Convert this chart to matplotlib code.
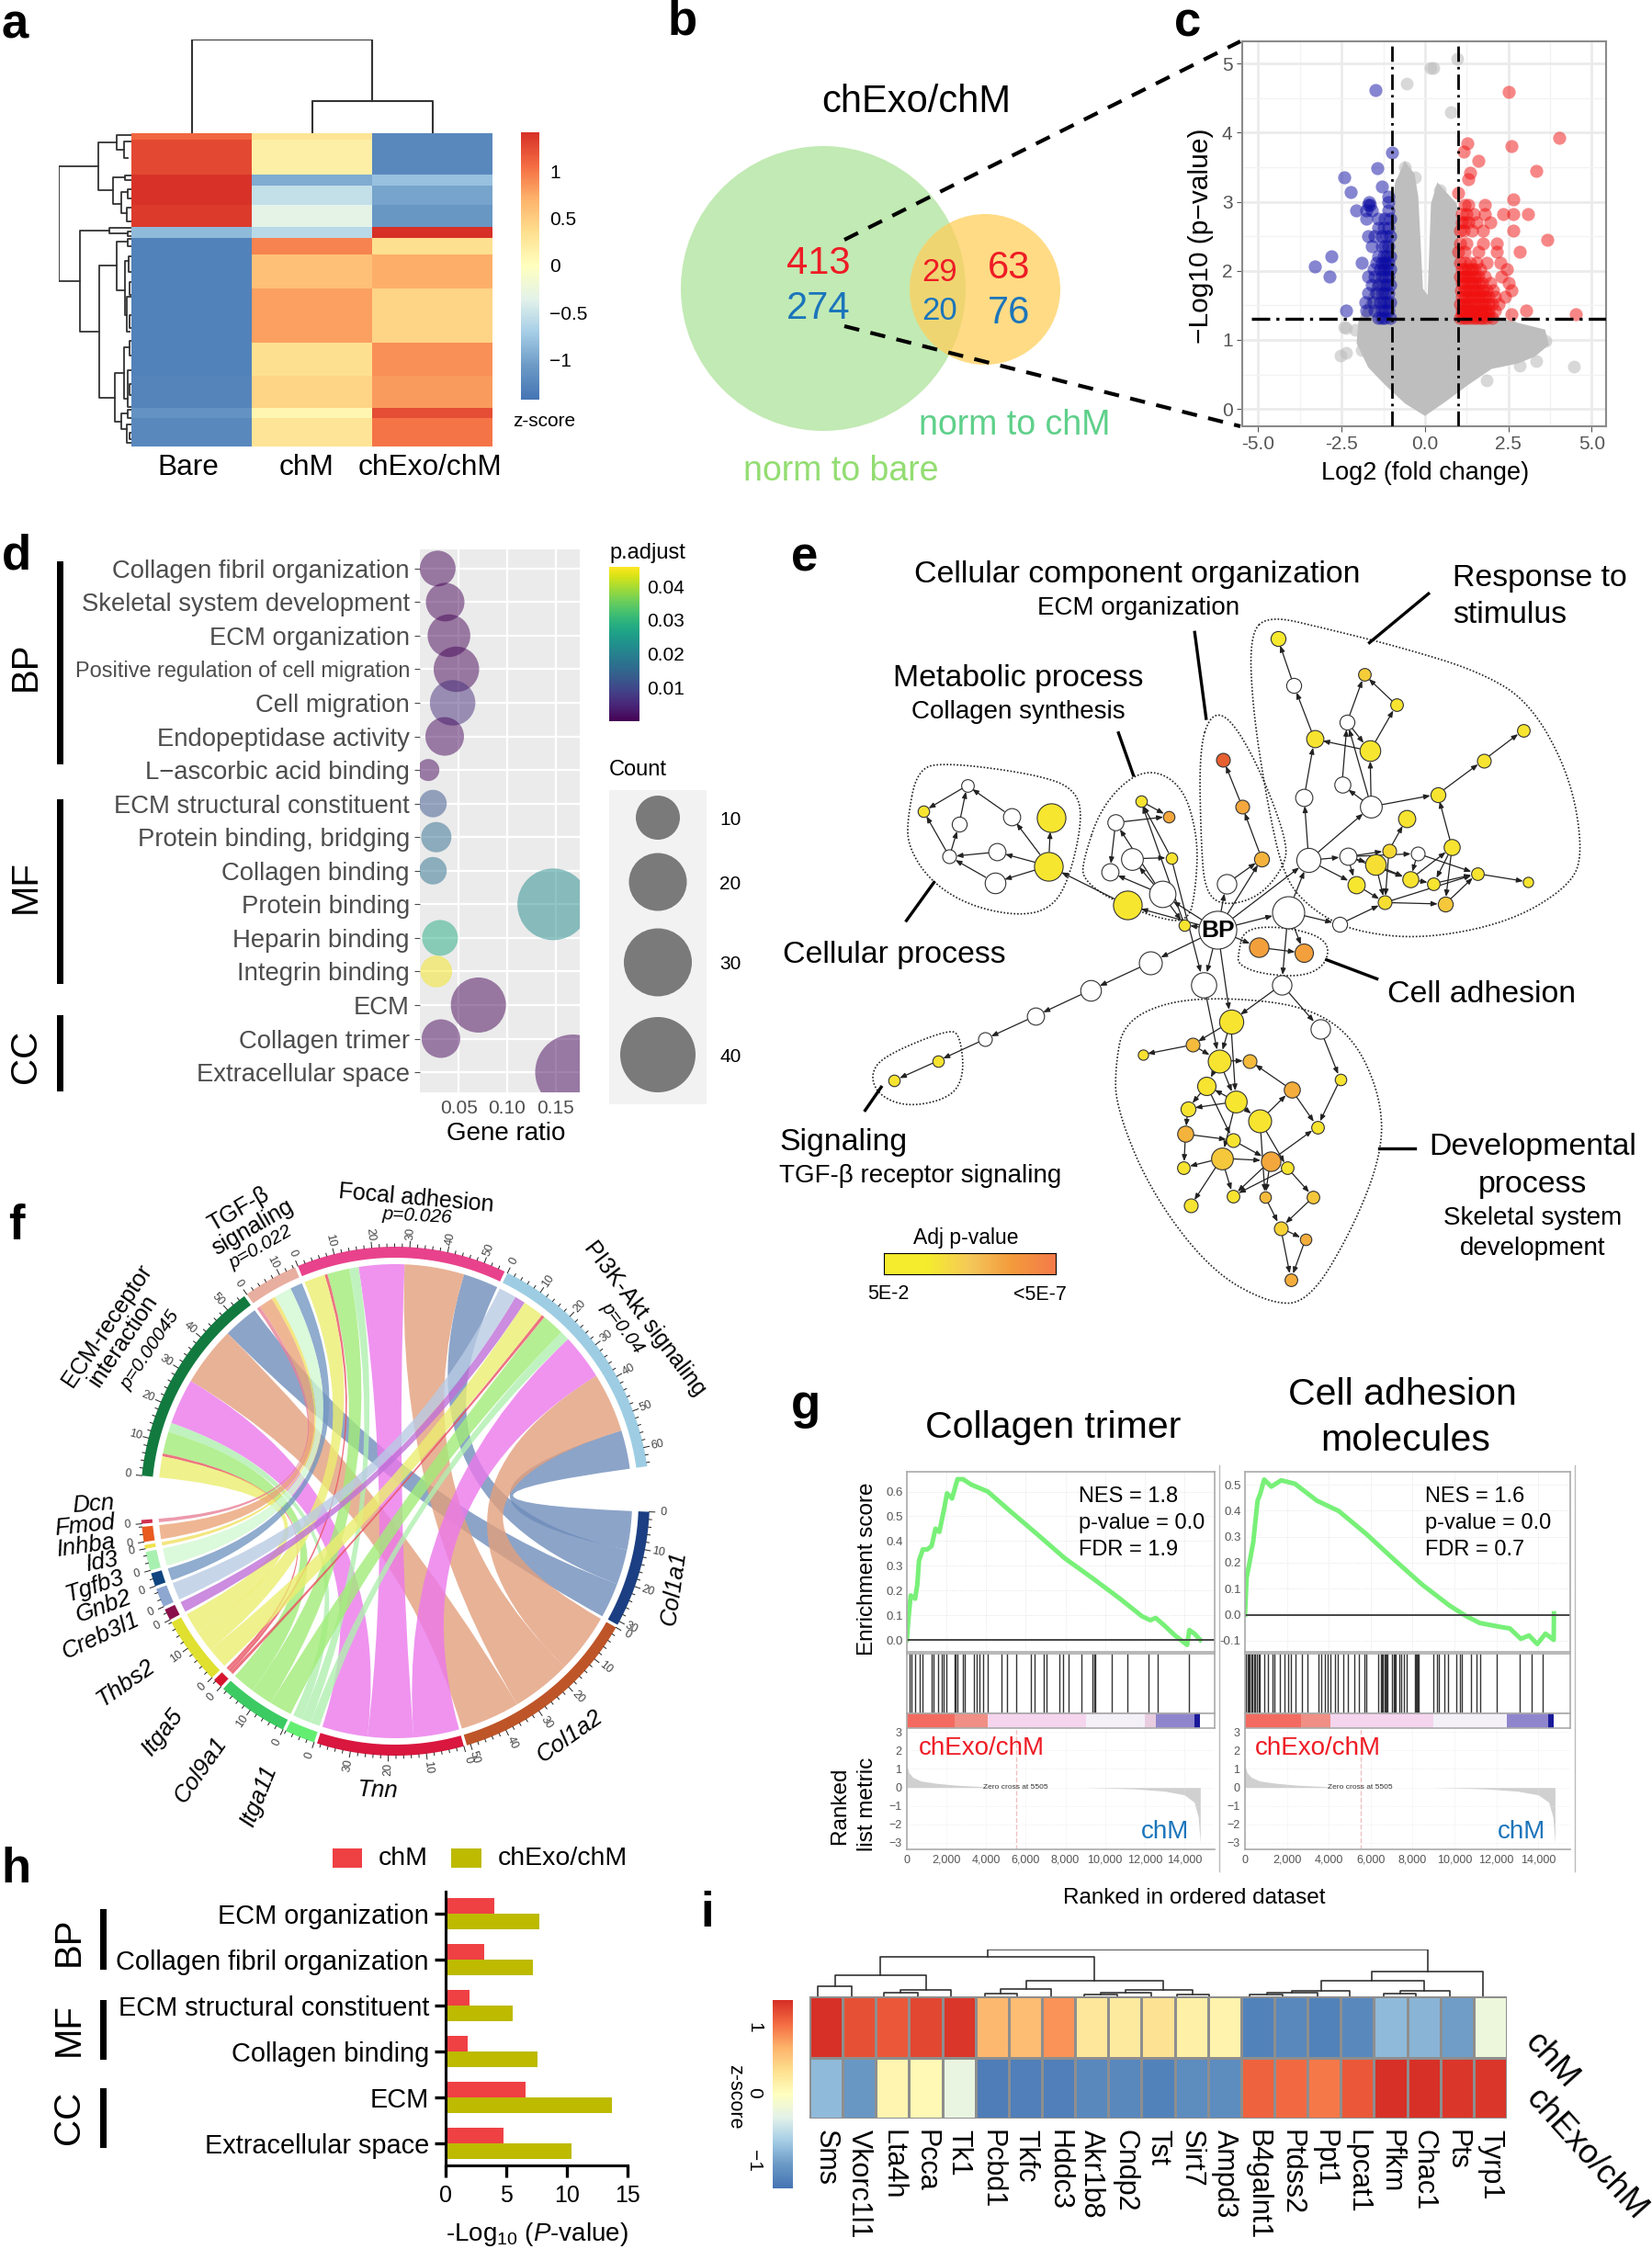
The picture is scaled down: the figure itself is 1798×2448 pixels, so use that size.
import numpy as np
import matplotlib
matplotlib.use("Agg")
import matplotlib.pyplot as plt
from matplotlib.cm import ScalarMappable
from matplotlib.colors import LinearSegmentedColormap, Normalize
from matplotlib.patches import Circle, PathPatch, Rectangle
from matplotlib.path import Path

plt.rcParams["font.family"] = ["Liberation Sans", "DejaVu Sans"]
plt.rcParams["mathtext.fontset"] = "custom"
plt.rcParams["mathtext.rm"] = "Liberation Sans"
plt.rcParams["mathtext.it"] = "Liberation Sans:italic"
plt.rcParams["axes.unicode_minus"] = True

W, H = 1798, 2448

# ======================================================
# DATA
# ======================================================
# a: heatmap blocks (gene counts per block, z-score per sample)
a_block_sizes = [20, 105, 35, 60, 65, 35, 50, 105, 165, 100, 100, 30, 87]
a_bare = [1.1, 1.27, 1.4, 1.4, 1.36, -0.85, -1.3, -1.3, -1.3, -1.3, -1.28, -1.15, -1.25]
a_chm = [0.3, 0.18, -0.95, -0.55, -0.33, -0.6, 0.95, 0.6, 0.8, 0.35, 0.45, 0.1, 0.3]
a_chexo = [-1.25, -1.25, -0.8, -1.0, -1.1, 1.42, 0.35, 0.72, 0.45, 0.88, 0.82, 1.25, 1.02]
a_samples = ["Bare", "chM", "chExo/chM"]
# dendrogram links as (height, y_a, child_height_a, y_b, child_height_b)
a_row_links = [
    (147, 507, 247, 857, 200), (247, 432, 293, 580, 283), (293, 410, 330, 455, 312),
    (312, 430, 330, 480, 320), (283, 540, 315, 620, 305), (315, 533, 330, 548, 330),
    (305, 585, 320, 650, 318), (320, 575, 330, 605, 330), (318, 632, 330, 675, 330),
    (200, 702, 275, 1012, 250), (275, 695, 330, 712, 320), (320, 705, 330, 720, 330),
    (250, 810, 292, 1212, 288), (292, 737, 320, 885, 315), (320, 728, 330, 750, 330),
    (315, 795, 322, 960, 318), (322, 780, 330, 830, 330), (318, 905, 330, 1010, 325),
    (288, 1138, 312, 1285, 305), (312, 1060, 325, 1215, 320), (325, 1040, 330, 1085, 330),
    (320, 1130, 330, 1240, 330), (305, 1260, 320, 1310, 318), (320, 1250, 330, 1275, 330),
    (318, 1295, 330, 1350, 330), (325, 860, 330, 900, 330), (325, 960, 330, 1000, 330),
    (325, 1170, 330, 1205, 330), (325, 1320, 330, 1340, 330),
]
a_col_links = [(784, 1087, 308, 405, 405), (483, 935, 120, 405, 308)]

# c: volcano
grey_outline_x = [0.0, 0.6, 1.3, 2.0, 2.8, 3.3, 3.72, 3.6, 2.34, 1.1, 1.0, 0.96, 0.67, 0.37, 0.18, 0.08, -0.06, -0.2, -0.31, -0.61, -0.9, -1.1, -2.0, -2.05, -1.7, -1.2, -0.6]
grey_outline_y = [-0.1, 0.1, 0.35, 0.58, 0.66, 0.76, 0.93, 1.15, 1.3, 1.6, 2.4, 2.97, 3.12, 3.28, 2.97, 1.65, 1.74, 3.07, 3.4, 3.59, 3.26, 2.4, 1.25, 0.95, 0.6, 0.35, 0.08]
grey_x = [0.96, 0.24, 0.16, -0.55, 0.77, -2.38, -2.42, -2.38, -2.54, 3.09, 3.62, 4.47, 2.83, 3.33, 1.85, -0.61, -0.31, -0.7, 0.43, 2.6, 2.9, 3.2, -2.1, -1.9]
grey_y = [5.07, 4.94, 4.94, 4.71, 4.30, 1.17, 1.19, 0.82, 0.77, 1.03, 0.98, 0.61, 0.63, 0.70, 0.41, 3.5, 3.35, 3.28, 3.16, 1.2, 1.1, 0.95, 1.15, 0.85]
blue_rows = {
    1.32: [-1.05, -1.2, -1.3, -1.4], 1.42: [-1.1, -1.2, -1.3, -1.5, -1.75, -2.38], 1.55: [-1.05, -1.15, -1.25, -1.35, -1.55, -1.8],
    1.68: [-1.1, -1.2, -1.3, -1.45, -1.7], 1.8: [-1.05, -1.15, -1.25, -1.4, -1.6], 1.92: [-1.1, -1.2, -1.3, -1.5, -1.7, -2.85],
    2.02: [-1.05, -1.15, -1.25, -1.35, -1.55], 2.06: [-3.3], 2.12: [-1.1, -1.2, -1.3, -1.45, -1.9], 2.21: [-1.05, -1.15, -1.25, -1.4, -2.8],
    2.35: [-1.1, -1.2, -1.3, -1.6], 2.5: [-1.05, -1.15, -1.3, -1.5, -1.7], 2.62: [-1.1, -1.25, -1.4],
    2.75: [-1.05, -1.2, -1.4, -1.75], 2.88: [-1.1, -1.6, -1.75, -2.05], 2.95: [-1.65, -1.7], 3.0: [-1.1, -1.68],
    3.07: [-1.1], 3.14: [-2.22], 3.22: [-1.3], 3.35: [-2.42], 3.48: [-1.44], 3.71: [-1.0], 4.62: [-1.48],
}
red_rows = {
    1.32: [1.05, 1.15, 1.25, 1.35, 1.45, 1.55, 1.65, 1.75, 1.85, 2.02], 1.37: [2.58, 4.51, 1.1, 1.3, 1.5, 1.7, 1.9],
    1.42: [1.1, 1.2, 1.3, 1.4, 1.5, 1.6, 1.7, 1.8, 1.9, 2.1, 3.03],
    1.52: [1.05, 1.15, 1.2, 1.3, 1.4, 1.5, 1.6, 1.7, 1.8, 1.9, 2.0, 2.2], 1.62: [1.1, 1.2, 1.3, 1.4, 1.5, 1.6, 1.7, 1.8, 1.9, 2.1, 2.4],
    1.72: [1.08, 1.18, 1.25, 1.35, 1.45, 1.55, 1.65, 1.75, 1.85, 2.05, 2.6], 1.82: [1.1, 1.2, 1.3, 1.4, 1.5, 1.6, 1.7, 1.95, 2.5],
    1.92: [1.05, 1.15, 1.2, 1.3, 1.4, 1.5, 1.6, 1.8, 2.3], 2.02: [1.1, 1.2, 1.3, 1.4, 1.5, 1.65, 2.45], 2.12: [1.05, 1.2, 1.35, 1.55, 1.85, 2.25],
    2.27: [1.0, 1.2, 1.6, 2.15, 2.83], 2.4: [1.05, 1.25, 1.75, 2.15], 2.45: [3.68], 2.58: [1.05, 1.15, 1.4, 1.75, 2.64],
    2.7: [1.1, 1.2, 1.3, 1.55, 1.95], 2.82: [1.1, 1.25, 1.45, 1.8, 2.34, 2.65, 3.09], 2.95: [1.2, 1.3, 1.79], 3.04: [2.66],
    3.12: [1.0], 3.32: [1.3], 3.42: [1.36], 3.45: [3.33], 3.59: [1.59], 3.73: [1.16], 3.81: [2.58],
    3.84: [1.26], 3.92: [4.02], 4.59: [2.5],
}

# d: GO bubbles
d_terms = ["Collagen fibril organization", "Skeletal system development", "ECM organization",
           "Positive regulation of cell migration", "Cell migration", "Endopeptidase activity",
           "L\u2212ascorbic acid binding", "ECM structural constituent", "Protein binding, bridging",
           "Collagen binding", "Protein binding", "Heparin binding", "Integrin binding", "ECM",
           "Collagen trimer", "Extracellular space"]
d_ratio = [0.0283, 0.036, 0.0399, 0.0476, 0.0437, 0.0355, 0.0186, 0.0234, 0.0268, 0.0234, 0.1476, 0.0307, 0.0268, 0.0703, 0.0316, 0.1679]
d_count = [7, 8, 9.5, 11, 11, 8, 2, 4, 5, 4, 35, 7, 5.5, 18, 8, 42]
d_padj = [0.0005, 0.0005, 0.0005, 0.0005, 0.006, 0.001, 0.001, 0.012, 0.016, 0.017, 0.022, 0.028, 0.045, 0.0005, 0.001, 0.001]
d_legend_counts = [10, 20, 30, 40]
d_count_levels = [2, 10, 20, 30, 40]
d_diam_levels = [24, 48, 63, 74, 82]

# e: network, x/y in layout units, (x, y, size, colour level; None = not significant)
e_top_nodes = {
    "BP": (810, 770, 66, None), "m1": (933, 735, 56, None), "m2": (1023, 759, 26, None),
    "ca1": (882, 804, 34, 0.6), "ca2": (961, 815, 32, 0.6),
    "c1": (820, 440, 24, 0.95), "c2": (853, 531, 24, 0.55), "c3": (887, 632, 26, 0.45), "c4": (825, 681, 34, None),
}
e_response_nodes = {
    "r1": (915, 205, 26, 0.0), "r2": (943, 296, 26, None), "r3": (1066, 275, 22, 0.25), "r4": (1122, 334, 22, 0.05),
    "r5": (1036, 367, 26, None), "r6": (979, 400, 30, 0.05), "r7": (1076, 423, 36, 0.03), "r8": (1343, 383, 22, 0.05),
    "r9": (1274, 441, 24, 0.05), "r10": (1027, 489, 28, None), "r11": (961, 513, 30, None), "r12": (1078, 531, 38, None),
    "r13": (1194, 507, 26, 0.05), "r14": (1140, 554, 30, 0.05), "r15": (1219, 610, 28, 0.05), "r16": (1109, 616, 24, 0.15),
    "r17": (1159, 622, 24, None), "r18": (969, 635, 42, None), "r19": (1037, 628, 30, None), "r20": (1086, 644, 36, 0.1),
    "r21": (1051, 682, 30, 0.03), "r22": (1146, 672, 28, 0.05), "r23": (1187, 680, 22, 0.05), "r24": (1263, 661, 22, 0.05),
    "r25": (1352, 677, 18, 0.05), "r26": (1102, 717, 24, 0.1), "r27": (1207, 720, 26, 0.3),
}
e_metabolic_nodes = {
    "k1": (676, 520, 20, 0.05), "k2": (725, 550, 20, 0.55), "k3": (632, 562, 28, None), "k4": (729, 630, 20, 0.05),
    "k5": (661, 632, 38, None), "k6": (622, 658, 30, None), "k7": (713, 701, 46, None), "k8": (652, 722, 50, 0.03),
    "k9": (752, 760, 20, 0.05),
}
e_cellular_nodes = {
    "p1": (373, 490, 22, None), "p2": (297, 540, 20, 0.05), "p3": (450, 550, 30, None), "p4": (519, 552, 50, 0.03),
    "p5": (359, 565, 26, None), "p6": (425, 619, 30, None), "p7": (342, 628, 24, None), "p8": (515, 646, 50, 0.03),
    "p9": (421, 678, 36, None),
}
e_signal_nodes = {
    "s1": (693, 833, 40, None), "s2": (588, 887, 36, None), "s3": (492, 937, 30, None), "s4": (404, 982, 24, None),
    "s5": (322, 1024, 20, 0.05), "s6": (246, 1062, 20, 0.05),
}
e_dev_nodes = {
    "d1": (786, 876, 44, None), "d2": (922, 876, 34, None), "d3": (989, 962, 34, None), "d4": (833, 948, 42, 0.05),
    "d5": (766, 993, 24, 0.4), "d6": (679, 1012, 18, 0.08), "d7": (813, 1024, 40, 0.05), "d8": (866, 1024, 24, 0.4),
    "d9": (1024, 1060, 20, 0.05), "d10": (939, 1080, 28, 0.5), "d11": (791, 1072, 32, 0.05), "d12": (842, 1103, 38, 0.03),
    "d13": (758, 1117, 26, 0.05), "d14": (884, 1140, 40, 0.05), "d15": (984, 1152, 22, 0.05), "d16": (754, 1166, 28, 0.45),
    "d17": (837, 1178, 24, 0.05), "d18": (817, 1213, 38, 0.3), "d19": (902, 1218, 34, 0.55), "d20": (932, 1232, 22, 0.05),
    "d21": (751, 1231, 22, 0.05), "d22": (837, 1286, 22, 0.05), "d23": (893, 1288, 20, 0.4), "d24": (977, 1288, 22, 0.3),
    "d25": (763, 1305, 24, 0.05), "d26": (920, 1348, 24, 0.2), "d27": (963, 1371, 20, 0.5), "d28": (938, 1448, 22, 0.5),
}
e_edges = """BP-k9 BP-k8 BP-c4 BP-c3 BP-m1 BP-ca1 BP-s1 BP-d1 BP-d4 BP-r18 BP-k7 k8-p8 k7-k6 k7-k5 k7-k3 k4-k1 k9-k1
k3-k2 k1-k2 k3-k6 k5-k4 k4-d1 k7-k9 p8-p4 p8-p3 p8-p6 p8-p9 p6-p7 p9-p7 p7-p2 p7-p5 p5-p1 p3-p1 p1-p2
c4-c3 c3-c2 c2-c1 m1-ca2 m1-r18 m1-m2 m2-r26 m1-d2 ca1-ca2 r18-r12 r12-r13 r12-r7 r7-r4 r2-r1 r6-r2 r7-r6 r5-r3 r4-r3
r5-r7 r12-r5 r10-r5 r11-r6 r18-r11 r12-r10 r18-r19 r18-r21 r19-r20 r19-r16 r19-r17 r13-r9 r9-r8 r15-r13 r16-r14
r17-r24 r20-r22 r22-r23 r22-r15 r15-r23 r15-r27 r24-r25 r23-r24 r26-r27 r26-r24 r20-r26 r21-r26 r16-r26 r17-r22
r27-r24 r19-r22 r19-r21 s1-s2 s2-s3 s3-s4 s4-s5 s5-s6 d2-d4 d2-d3 d3-d9 d9-d15 d1-d7 d4-d7 d4-d12 d4-d5 d5-d6 d5-d7
d7-d8 d7-d11 d7-d12 d10-d8 d10-d15 d12-d11 d12-d14 d14-d10 d11-d13 d13-d16 d12-d13 d16-d17 d16-d21 d11-d17
d12-d18 d18-d19 d18-d21 d18-d22 d18-d25 d17-d19 d19-d15 d19-d22 d14-d20 d19-d20 d20-d24 d20-d22 d19-d23 d23-d26
d24-d26 d26-d27 d26-d28 d27-d28 d14-d23""".split()
e_blobs = [
    [(866, 195), (900, 160), (1000, 186), (1130, 222), (1265, 268), (1355, 328), (1425, 470), (1448, 620), (1425, 685),
     (1320, 755), (1170, 788), (1050, 774), (978, 734), (926, 672), (896, 520), (871, 340)],
    [(268, 560), (286, 456), (340, 446), (480, 466), (558, 492), (576, 550), (548, 684), (512, 734), (450, 742),
     (368, 719), (306, 672), (271, 610)],
    [(574, 640), (608, 526), (680, 454), (748, 486), (776, 590), (772, 690), (759, 756), (700, 746), (618, 708), (576, 672)],
    [(778, 420), (798, 350), (832, 358), (884, 458), (932, 600), (926, 648), (882, 707), (820, 724), (788, 696), (781, 600)],
    [(846, 817), (856, 766), (932, 764), (1002, 788), (1002, 834), (962, 861), (888, 856), (846, 838)],
    [(632, 1030), (646, 951), (720, 909), (830, 901), (964, 918), (1046, 976), (1094, 1090), (1098, 1200), (1046, 1350),
     (968, 1494), (898, 1494), (796, 1429), (692, 1276), (632, 1112)],
    [(204, 1050), (228, 1014), (342, 962), (361, 976), (368, 1052), (344, 1096), (270, 1114), (218, 1091)],
]
e_callouts = [((1178, 118), (1075, 213)), ((770, 193), (790, 360)), ((637, 388), (663, 470)), ((315, 678), (267, 752)),
              ((1000, 828), (1088, 865)), ((223, 1075), (195, 1120)), ((1092, 1193), (1155, 1193))]

# f: chord diagram, links gene -> pathway
f_genes = ["Col1a1", "Col1a2", "Tnn", "Itga11", "Col9a1", "Itga5", "Thbs2", "Creb3l1", "Gnb2", "Tgfb3", "Id3", "Inhba", "Fmod", "Dcn"]
f_pathways = ["ECM", "TGF", "Focal", "PI3K"]
f_ecm = [10, 17, 13, 2.6, 6.3, 0.8, 6, 0, 0, 0, 0, 0, 0, 0]
f_tgf = [0, 0, 0, 0, 0, 0, 0, 0, 0, 3.5, 5, 1, 4, 1]
f_focal = [10, 17, 13, 2.7, 6.3, 0.8, 6, 0, 0, 0, 0, 0, 0, 0]
f_pi3k = [11, 17, 13, 2.7, 6.4, 0.9, 6, 3, 5, 0, 0, 0, 0, 0]
f_gene_ring = ["#1B3F82", "#BE5528", "#D9173F", "#63EE72", "#3CCB62", "#D5152E", "#DFE02F", "#8B0F4A", "#8DA7D0", "#10457F", "#A8F0B0", "#EFE24A", "#E85A20", "#D03050"]
f_gene_ribbon = ["#6F8DBB", "#E39F7C", "#EC78EC", "#B0EFB0", "#A2EC78", "#E85060", "#ECEE70", "#C070D8", "#B9CBE4", "#7498C2", "#D2F8D2", "#F0E060", "#ECA478", "#E88098"]
f_path_ring = ["#127A3F", "#E8AEA0", "#E9428C", "#9ECDE3"]

# g: GSEA
g1_rank = [0, 83, 194, 417, 528, 611, 806, 1028, 1250, 1444, 1639, 1861, 2028, 2278, 2556, 2833, 3250, 4083, 5194, 6583, 7972, 9361, 10750, 11861, 12278, 12556, 12972, 13528, 14139, 14250, 14500, 14806]
g1_es = [0, .089, .18, .167, .224, .32, .366, .366, .38, .45, .437, .522, .593, .572, .65, .65, .628, .6, .522, .427, .33, .25, .167, .096, .08, .089, .06, .018, -.02, .04, .026, 0]
g2_rank = [0, 79, 209, 393, 602, 733, 916, 1257, 1728, 2383, 3430, 4477, 5786, 7147, 8456, 9765, 10551, 11205, 12122, 12645, 13169, 13562, 13954, 14347, 14739, 14750]
g2_es = [0, .143, .197, .278, .439, .466, .52, .493, .517, .504, .439, .399, .311, .21, .116, .035, -.005, -.032, -.046, -.053, -.093, -.08, -.113, -.073, -.097, .005]
g1_hits = [139, 250, 417, 639, 778, 1250, 1361, 1583, 1750, 1861, 1972, 2417, 2472, 2556, 2833, 2917, 3389, 3528, 3667, 3861, 4083, 4778, 5056, 5528, 6250, 6444, 6917, 7028, 7694, 7889, 8167, 8806, 9361, 9444, 9500, 10333, 11111, 12194, 12639, 14250]
g2_hits = [60, 120, 180, 240, 300, 360, 420, 480, 560, 640, 700, 900, 1100, 1300, 1400, 1650, 1900, 2050, 2200, 2400, 2700, 3000, 3500, 3650, 3800, 3950, 4100, 4300, 4450, 4700, 4900, 5200, 5450, 5700, 5800, 6350, 6500, 6550, 6600, 6650, 6700, 6750, 6800, 7000, 7100, 7150, 7200, 7350, 7450, 7600, 7700, 8100, 8150, 8200, 8250, 8300, 9000, 9150, 9250, 9500, 9700, 10100, 10250, 10350, 10800, 11050, 11250, 12000, 13100, 13700, 14200]
g1_band_edges = [0, 2417, 4083, 9028, 12000, 12556, 14500, 14800]
g2_band_edges = [0, 2696, 4058, 8980, 12515, 14478, 14740, 14800]
g1_band_cols = ["#F36B60", "#F08F85", "#F5D5EE", "#F4F0F8", "#E8CCE0", "#8F85CC", "#1A1A9A"]
g2_band_cols = ["#F36B60", "#F08F85", "#F5D5EE", "#F4F0F8", "#8F85CC", "#1A1A9A", "#FFFFFF"]
g_metric_rank = [0, 100, 300, 700, 1500, 2500, 4083, 4084, 9000, 10000, 11500, 13000, 14000, 14500, 14700, 14800]
g_metric_val = [1.2, 0.8, 0.55, 0.35, 0.22, 0.12, 0.03, 0, 0, -0.03, -0.08, -0.2, -0.4, -0.8, -1.6, -3.0]

# h: bars
h_terms = ["ECM organization", "Collagen fibril organization", "ECM structural constituent", "Collagen binding", "ECM", "Extracellular space"]
h_chm = [4.0, 3.15, 1.95, 1.8, 6.6, 4.8]
h_chexo = [7.7, 7.2, 5.55, 7.6, 13.7, 10.4]

# i: heatmap
i_genes = ["Sms", "Vkorc1l1", "Lta4h", "Pcca", "Tk1", "Pcbd1", "Tkfc", "Hddc3", "Akr1b8", "Cndp2", "Tst", "Sirt7", "Ampd3",
           "B4galnt1", "Ptdss2", "Ppt1", "Lpcat1", "Pfkm", "Chac1", "Pts", "Tyrp1"]
i_chm = [1.38, 1.2, 1.15, 1.25, 1.35, 0.65, 0.6, 0.85, 0.25, 0.22, 0.3, 0.15, 0.12, -1.3, -1.25, -1.3, -1.25, -0.85, -0.9, -1.05, -0.25]
i_chexo = [-0.85, -1.1, 0.1, 0.05, -0.3, -1.35, -1.32, -1.32, -1.25, -1.25, -1.3, -1.2, -1.2, 1.1, 1.05, 0.98, 1.15, 1.4, 1.4, 1.35, 1.35]
# (x_left, x_right, height, child_height_left, child_height_right)
i_links = [
    (197, 252, 305, 338, 338), (305, 362, 327, 338, 338), (333, 416, 318, 327, 338), (225, 375, 270, 305, 318),
    (472, 525, 329, 338, 338), (498, 580, 315, 329, 338), (635, 690, 332, 338, 338), (662, 745, 326, 332, 338),
    (787, 840, 332, 338, 338), (703, 813, 318, 326, 332), (540, 765, 288, 315, 318), (300, 652, 210, 270, 288),
    (907, 962, 332, 338, 338), (935, 1018, 326, 332, 338), (976, 1072, 319, 326, 338), (1127, 1180, 330, 338, 338),
    (1155, 1236, 319, 330, 338), (1024, 1194, 288, 319, 319), (1108, 1290, 258, 288, 338), (476, 1200, 185, 210, 258),
]

# ======================================================
# HELPERS
# ======================================================
fig = plt.figure(figsize=(W / 100, H / 100), dpi=100, facecolor="white")


def box(x0, y0, x1, y1, **kw):
    return fig.add_axes([x0 / W, 1 - y1 / H, (x1 - x0) / W, (y1 - y0) / H], **kw)


page = box(0, 0, W, H, zorder=10)
page.set_xlim(0, W)
page.set_ylim(H, 0)
page.axis("off")
page.patch.set_alpha(0)


def put(x, y, s, size=20, ha="center", va="center", color="black", **kw):
    # matplotlib centres on the text box, the glyphs sit a little higher
    if not kw.get("rotation"):
        y += 2
    page.text(x, y, s, fontsize=size, ha=ha, va=va, color=color, **kw)


def side_bar(x, y0, y1, width=7):
    page.add_patch(Rectangle((x, y0), width, y1 - y0, color="black", lw=0))


z_cmap = LinearSegmentedColormap.from_list(
    "z", ["#4575B4", "#6C9AC6", "#A5CDE6", "#E3F2EA", "#FFFFBF", "#FEE090", "#FDB36B", "#F46D43", "#D73027"])

for letter, lx, ly in [("a", 16, 26), ("b", 743, 21), ("c", 1293, 23), ("d", 18, 603), ("e", 876, 606), ("f", 18, 1333),
                       ("g", 877, 1528), ("h", 17, 2033), ("i", 770, 2081)]:
    put(lx, ly, letter, size=38, fontweight="bold")

# ======================================================
# PANEL A: HEATMAP
# ======================================================
ax = box(143, 145, 536, 486)
edges = np.concatenate(([0], np.cumsum(a_block_sizes)))
ax.pcolormesh([0, 1, 2, 3], edges, np.array([a_bare, a_chm, a_chexo]).T, cmap=z_cmap, vmin=-1.43, vmax=1.42)
ax.set_ylim(edges[-1], 0)
ax.axis("off")

ax = box(63.7, 145, 143, 486)
for h, y_a, ca, y_b, cb in a_row_links:
    ax.plot([ca, h, h, cb], [y_a, y_a, y_b, y_b], color="#333333", lw=1.3)
ax.set_xlim(147, 330)
ax.set_ylim(1362, 405)
ax.axis("off")

ax = box(143, 43, 536, 145)
for x_l, x_r, h, cl, cr in a_col_links:
    ax.plot([x_l, x_l, x_r, x_r], [cl, h, h, cr], color="#333333", lw=1.5)
ax.set_xlim(330, 1237)
ax.set_ylim(405, 120)
ax.axis("off")

for name, x in zip(a_samples, [205, 334, 468]):
    put(x, 507, name, size=22.8)

cax = box(567, 144, 587, 435)
cb = fig.colorbar(ScalarMappable(Normalize(-1.43, 1.42), z_cmap), cax=cax)
cb.set_ticks([1, 0.5, 0, -0.5, -1], labels=["1", "0.5", "0", "\u22120.5", "\u22121"])
cb.ax.tick_params(length=0, labelsize=15, pad=8)
cb.outline.set_visible(False)
put(592, 456, "z-score", size=15)

# ======================================================
# PANEL B: VENN
# ======================================================
page.add_patch(Circle((896, 314), 155, facecolor="#BFE9B0", edgecolor="none", alpha=0.95))
page.add_patch(Circle((1072, 315), 82, facecolor="#FFCF5C", edgecolor="none", alpha=0.75))
put(997, 109, "chExo/chM", size=30)
for x, y, s, col, size in [(891, 285, "413", "#EE1C25", 30), (891, 334, "274", "#1B75BB", 30), (1023, 295, "29", "#EE1C25", 25),
                           (1023, 336, "20", "#1B75BB", 25), (1098, 290, "63", "#EE1C25", 30), (1098, 339, "76", "#1B75BB", 30)]:
    put(x, y, s, size=size, color=col)
put(1104, 461, "norm to chM", size=27, color="#5FD08A")
put(915, 511, "norm to bare", size=27, color="#93DD72")
page.plot([919, 1350], [261, 45], color="black", lw=3, ls=(0, (4, 3)))
page.plot([919, 1350], [355, 464], color="black", lw=3, ls=(0, (4, 3)))

# ======================================================
# PANEL C: VOLCANO
# ======================================================
ax = box(1352, 45, 1748, 464)
ax.set_xlim(-5.48, 5.43)
ax.set_ylim(-0.25, 5.32)
ax.set_axisbelow(True)
ax.grid(True, which="major", color="#EBEBEB", lw=2)
ax.set_xticks([-3.75, -1.25, 1.25, 3.75], minor=True)
ax.set_yticks([0.5, 1.5, 2.5, 3.5, 4.5], minor=True)
ax.grid(True, which="minor", color="#F3F3F3", lw=1)
ax.fill(grey_outline_x, grey_outline_y, color="#BEBEBE", lw=0, zorder=2)
ax.scatter(grey_x, grey_y, s=100, color="#BEBEBE", alpha=0.6, lw=0, zorder=2)
bx = [x for y, xs in blue_rows.items() for x in xs]
by = [y for y, xs in blue_rows.items() for x in xs]
rx = [x for y, xs in red_rows.items() for x in xs]
ry = [y for y, xs in red_rows.items() for x in xs]
ax.scatter(bx, by, s=105, color="#0C0CA4", alpha=0.5, lw=0, zorder=3)
ax.scatter(rx, ry, s=105, color="#F01010", alpha=0.5, lw=0, zorder=3)
ax.axvline(-1, color="black", lw=2, ls=(0, (6, 2, 1, 2)), zorder=4)
ax.axvline(1, color="black", lw=2, ls=(0, (6, 2, 1, 2)), zorder=4)
ax.plot([-5.2, 5.43], [1.3, 1.3], color="black", lw=2.4, ls=(0, (6, 2, 1, 2)), zorder=4)
ax.set_xticks([-5, -2.5, 0, 2.5, 5], labels=["-5.0", "-2.5", "0.0", "2.5", "5.0"])
ax.set_yticks([0, 1, 2, 3, 4, 5])
ax.tick_params(which="major", labelsize=15, labelcolor="#555555", color="#555555", length=4)
ax.tick_params(which="minor", length=0)
for s in ax.spines.values():
    s.set_color("#8A8A8A")
    s.set_linewidth(1.5)
put(1551, 513, "Log2 (fold change)", size=19.5)
put(1307, 257, "\u2212Log10 (p\u2212value)", size=21.5, rotation=90)

# ======================================================
# PANEL D: BUBBLES
# ======================================================
def count_size(c):
    return (np.interp(c, d_count_levels, d_diam_levels) * 0.72) ** 2


ax = box(457, 598, 631, 1189)
ax.set_facecolor("#EBEBEB")
ax.set_axisbelow(True)
ax.grid(True, color="white", lw=1.6)
ypos = np.arange(len(d_terms))
ax.scatter(d_ratio, ypos, s=count_size(np.array(d_count)), c=d_padj, cmap="viridis", vmin=0, vmax=0.0458, alpha=0.5, lw=0, zorder=3)
ax.set_xlim(0.0099, 0.175)
ax.set_ylim(15.6, -0.57)
ax.set_yticks(ypos, labels=d_terms)
ax.set_xticks([0.05, 0.10, 0.15], labels=["0.05", "0.10", "0.15"])
ax.tick_params(axis="y", labelsize=19.8, labelcolor="#4D4D4D", color="#4D4D4D", length=4, pad=4)
ax.tick_params(axis="x", labelsize=15, labelcolor="#4D4D4D", length=0, pad=6)
ax.get_yticklabels()[3].set_fontsize(16.9)
for s in ax.spines.values():
    s.set_visible(False)
put(551, 1232, "Gene ratio", size=20)
side_bar(62, 611, 832)
side_bar(62, 870, 1071)
side_bar(62, 1105, 1188)
put(28, 725, "BP", size=29, rotation=90)
put(28, 965, "MF", size=29, rotation=90)
put(28, 1150, "CC", size=29, rotation=90)

cax = box(663, 617, 696, 785)
cb = fig.colorbar(ScalarMappable(Normalize(0, 0.0458), "viridis"), cax=cax)
cb.set_ticks([0.01, 0.02, 0.03, 0.04], labels=["0.01", "0.02", "0.03", "0.04"])
cb.ax.tick_params(length=0, labelsize=15, pad=6)
cb.outline.set_visible(False)
put(663, 600, "p.adjust", size=17, ha="left")
put(663, 836, "Count", size=17, ha="left")

ax = box(663, 860, 769, 1202)
ax.set_facecolor("#F2F2F2")
ax.set_xlim(0, 1)
ax.set_ylim(1202, 860)
ax.scatter([0.5] * 4, [890, 960, 1047.5, 1148], s=count_size(np.array(d_legend_counts)), color="#7A7A7A", lw=0)
ax.set_xticks([])
ax.set_yticks([])
for s in ax.spines.values():
    s.set_visible(False)
for c, y in zip(d_legend_counts, [890, 960, 1047.5, 1148]):
    put(783, y, str(c), size=15, ha="left")

# ======================================================
# PANEL E: NETWORK
# ======================================================
ax = box(820, 580, 1798, 1460)
ax.set_xlim(0, 1568)
ax.set_ylim(1568, 0)
ax.axis("off")
ax.patch.set_alpha(0)

nodes = {}
for group in [e_top_nodes, e_response_nodes, e_metabolic_nodes, e_cellular_nodes, e_signal_nodes, e_dev_nodes]:
    nodes.update(group)

p_cmap = LinearSegmentedColormap.from_list("p", ["#F7E92E", "#F5C33C", "#F2973C", "#E4572E"])
for pts in e_blobs:
    pts = np.array(pts, dtype=float)
    for _ in range(4):
        # corner cutting to round the hand-read outline
        nxt = np.roll(pts, -1, axis=0)
        pts = np.column_stack((0.75 * pts + 0.25 * nxt, 0.25 * pts + 0.75 * nxt)).reshape(-1, 2)
    pts = np.vstack((pts, pts[0]))
    ax.plot(pts[:, 0], pts[:, 1], color="#222222", lw=1.2, ls=(0, (1, 1.2)), zorder=1)
for (x0, y0), (x1, y1) in e_callouts:
    ax.plot([x0, x1], [y0, y1], color="black", lw=2.4, zorder=1)
for edge in e_edges:
    a, b = edge.split("-")
    xa, ya, da, _ = nodes[a]
    xb, yb, db, _ = nodes[b]
    ax.annotate("", xy=(xb, yb), xytext=(xa, ya), zorder=2,
                arrowprops=dict(arrowstyle="-|>,head_length=0.4,head_width=0.16", lw=0.9, color="#222222",
                                shrinkA=da / 1.603 * 0.36, shrinkB=db / 1.603 * 0.36))
for x, y, d, level in nodes.values():
    face = "white" if level is None else p_cmap(level)
    ax.scatter([x], [y], s=(d / 1.603 * 0.72) ** 2, facecolor=face, edgecolor="#333333", lw=0.8, zorder=3)
ax.text(810, 772, "BP", fontsize=19, fontweight="bold", ha="center", va="center", zorder=4)

for x, y, s, size, ha in [
    (670, 78, "Cellular component organization", 24.4, "center"), (672, 143, "ECM organization", 20, "center"),
    (1220, 85, "Response to", 24.4, "left"), (1220, 157, "stimulus", 24.4, "left"),
    (462, 280, "Metabolic process", 24.4, "center"), (462, 345, "Collagen synthesis", 20, "center"),
    (245, 815, "Cellular process", 24.4, "center"), (1270, 892, "Cell adhesion", 24.4, "center"),
    (45, 1180, "Signaling", 24.4, "left"), (45, 1245, "TGF-\u03b2 receptor signaling", 20, "left"),
    (1360, 1188, "Developmental", 24.4, "center"), (1360, 1262, "process", 24.4, "center"),
    (1360, 1327, "Skeletal system", 20, "center"), (1360, 1385, "development", 20, "center"),
    (370, 1365, "Adj p-value", 16.5, "center"), (236, 1473, "5E-2", 15.5, "center"), (500, 1475, "<5E-7", 15.5, "center"),
]:
    ax.text(x, y + 3, s, fontsize=size, ha=ha, va="center", zorder=4)

cax = box(820 + 228 / 1.603, 580 + 1397 / 1.782, 820 + 528 / 1.603, 580 + 1438 / 1.782)
cax.imshow(np.linspace(0, 1, 128)[None, :], aspect="auto", cmap=LinearSegmentedColormap.from_list("q", ["#F5EC2E", "#F5EC2E", "#F5C85A", "#F39A3C", "#F47A4A"]))
cax.set_xticks([])
cax.set_yticks([])

# ======================================================
# PANEL F: CHORD
# ======================================================
ax = box(130, 1334, 730, 1934)
ax.set_xlim(-300, 300)
ax.set_ylim(-300, 300)
ax.axis("off")
ax.patch.set_alpha(0)

f_matrix = np.array([f_ecm, f_tgf, f_focal, f_pi3k])
unit = 0.86
r_ribbon, r_in, r_out = 258, 265, 277
totals = list(f_matrix.sum(axis=0)) + list(f_matrix.sum(axis=1))
names = f_genes + f_pathways
ring_cols = f_gene_ring + f_path_ring
sector = {}
angle = -2.4
for name, total in zip(names, totals):
    sector[name] = angle
    angle -= total * unit
    angle -= 10.0 if name in ("Dcn", "PI3K") else 0.7


def rim(r, a0, a1):
    t = np.radians(np.linspace(a0, a1, 30))
    return np.column_stack((r * np.cos(t), r * np.sin(t)))


for name, total, col in zip(names, totals, ring_cols):
    start = sector[name]
    end = start - total * unit
    ring = np.vstack((rim(r_out, start, end), rim(r_in, end, start)))
    ax.fill(ring[:, 0], ring[:, 1], color=col, lw=0, zorder=5)
    xs_major = np.arange(0, total + 0.01, 10)
    for v in np.arange(0, total + 0.01, 2):
        a = np.radians(start - v * unit)
        ln = 6 if v % 10 == 0 else 3
        ax.plot([r_out * np.cos(a), (r_out + ln) * np.cos(a)], [r_out * np.sin(a), (r_out + ln) * np.sin(a)],
                color="#222222", lw=0.7, zorder=5)
    for v in xs_major:
        deg = start - v * unit
        a = np.radians(deg)
        rot = deg if np.cos(a) >= 0 else deg + 180
        ax.text((r_out + 15) * np.cos(a), (r_out + 15) * np.sin(a), f"{v:.0f}", fontsize=9, color="#444444",
                rotation=rot, rotation_mode="anchor", ha="center", va="center", zorder=5)

cursor = dict(sector)
gene_arcs = {}
for gi, gene in enumerate(f_genes):
    for pi in range(len(f_pathways) - 1, -1, -1):
        w = f_matrix[pi, gi] * unit
        if w > 0:
            gene_arcs[(gi, pi)] = (cursor[gene], cursor[gene] - w)
            cursor[gene] -= w
for pi, path_name in enumerate(f_pathways):
    for gi in range(len(f_genes) - 1, -1, -1):
        w = f_matrix[pi, gi] * unit
        if w > 0:
            a0, a1 = gene_arcs[(gi, pi)]
            b0, b1 = cursor[path_name], cursor[path_name] - w
            cursor[path_name] -= w
            arc_a, arc_b = rim(r_ribbon, a0, a1), rim(r_ribbon, b0, b1)
            verts = list(arc_a) + [(0, 0), arc_b[0]] + list(arc_b[1:]) + [(0, 0), arc_a[0], arc_a[0]]
            codes = [Path.MOVETO] + [Path.LINETO] * (len(arc_a) - 1) + [Path.CURVE3, Path.CURVE3] + \
                    [Path.LINETO] * (len(arc_b) - 1) + [Path.CURVE3, Path.CURVE3, Path.CLOSEPOLY]
            ax.add_patch(PathPatch(Path(verts, codes), facecolor=f_gene_ribbon[gi], edgecolor="none", alpha=0.8, zorder=2 + gi * 0.01))

for x, y, s, rot in [(102, 1637, "Dcn", 4), (92, 1661, "Fmod", 6), (94, 1683, "Inhba", 8), (111, 1700, "Id3", 10),
                     (103, 1726, "Tgfb3", 18), (113, 1749, "Gnb2", 20), (110, 1781, "Creb3l1", 25), (137, 1832, "Thbs2", 35),
                     (177, 1885, "Itga5", 52), (218, 1926, "Col9a1", 55), (282, 1954, "Itga11", 68), (411, 1949, "Tnn", -2),
                     (620, 1890, "Col1a2", 35), (733, 1728, "Col1a1", 82)]:
    page.text(x, y, s, fontsize=18.5, rotation=rot, style="italic", ha="center", va="center")
put(453, 1304, "Focal adhesion", size=18, rotation=-5)
put(454, 1324, "p=0.026", size=15, rotation=-3, style="italic")
put(260, 1316, "TGF-\u03b2", size=18, rotation=30)
put(275, 1336, "signaling", size=18, rotation=30)
put(284, 1358, "p=0.022", size=15, rotation=30, style="italic")
put(116, 1443, "ECM-receptor", size=18, rotation=56)
put(134, 1459, "interaction", size=18, rotation=56)
put(163, 1469, "p=0.00045", size=15, rotation=56, style="italic")
put(702, 1435, "PI3K-Akt signaling", size=18, rotation=-53)
put(678, 1445, "p=0.04", size=15, rotation=-53, style="italic")

# ======================================================
# PANEL G: GSEA
# ======================================================
def gsea(x0, x1, ranks, es, es_ylim, es_ticks, hits, band_edges, band_cols, zero_label):
    top = box(x0, 1602, x1, 1798)
    top.plot(ranks, es, color="#78F078", lw=3.6)
    top.axhline(0, color="#444444", lw=1.4)
    top.set_xlim(0, 15528)
    top.set_ylim(*es_ylim)
    top.set_xticks(np.arange(0, 15000, 2000), labels=[])
    top.set_yticks(es_ticks, labels=[f"{t:.1f}" for t in es_ticks])
    top.grid(True, color="#DDDDDD", lw=0.6, ls=":")
    top.tick_params(length=0, labelsize=9.5, labelcolor="#555555", pad=3)

    hit = box(x0, 1800, x1, 1865)
    hit.vlines(hits, 0, 1, color="#333333", lw=1.0)
    hit.set_xlim(0, 15528)
    hit.set_ylim(0, 1)
    hit.set_xticks([])
    hit.set_yticks([])

    band = box(x0, 1865, x1, 1881)
    lefts = np.array(band_edges[:-1])
    band.barh([0] * len(band_cols), np.diff(band_edges), left=lefts, height=1, color=band_cols, lw=0)
    band.set_xlim(0, 15528)
    band.set_ylim(-0.5, 0.5)
    band.set_xticks([])
    band.set_yticks([])

    rank = box(x0, 1882, x1, 2013)
    rank.fill_between(g_metric_rank, 0, g_metric_val, color="#D0D0D0", lw=0)
    rank.axvline(5505, color="#F0C0C0", lw=1, ls="--")
    rank.text(5505, 0, zero_label, fontsize=6, ha="center", va="center", color="#333333")
    rank.set_xlim(0, 15528)
    rank.set_ylim(-3.35, 3.16)
    rank.set_yticks([3, 2, 1, 0, -1, -2, -3])
    rank.set_xticks(np.arange(0, 15000, 2000), labels=[f"{v:,}" for v in range(0, 15000, 2000)])
    rank.grid(True, color="#E4E4E4", lw=0.5, ls=":")
    rank.tick_params(length=0, labelsize=9, labelcolor="#555555", pad=4)
    for a in (top, hit, band, rank):
        for s in a.spines.values():
            s.set_color("#AAAAAA")
            s.set_linewidth(1.2)
    rank.spines["right"].set_visible(False)
    rank.spines["top"].set_visible(False)


gsea(987, 1322, g1_rank, g1_es, (-0.048, 0.68), [0, 0.1, 0.2, 0.3, 0.4, 0.5, 0.6], g1_hits, g1_band_edges, g1_band_cols, "Zero cross at 5505")
gsea(1355, 1709, g2_rank, g2_es, (-0.143, 0.55), [-0.1, 0, 0.1, 0.2, 0.3, 0.4, 0.5], g2_hits, g2_band_edges, g2_band_cols, "Zero cross at 5505")
page.plot([1326.5, 1326.5], [1595, 2037], color="#BBBBBB", lw=1)
page.plot([1714, 1714], [1595, 2037], color="#BBBBBB", lw=1)
put(1146, 1552, "Collagen trimer", size=29.5)
put(1526, 1516, "Cell adhesion", size=29.5)
put(1530, 1566, "molecules", size=29.5)
for x, lines in [(1174, ["NES = 1.8", "p-value = 0.0", "FDR = 1.9"]), (1551, ["NES = 1.6", "p-value = 0.0", "FDR = 0.7"])]:
    for y, s in zip([1627, 1656, 1685], lines):
        put(x, y, s, size=17, ha="left")
for x in (1000, 1366):
    put(x, 1901, "chExo/chM", size=20, color="#EE1C25", ha="left")
put(1268, 1992, "chM", size=20, color="#1B75BB")
put(1656, 1992, "chM", size=20, color="#1B75BB")
put(944, 1708, "Enrichment score", size=17.5, rotation=90)
put(914, 1965, "Ranked", size=17.5, rotation=90)
put(944, 1964, "list metric", size=17.5, rotation=90)
put(1300, 2064, "Ranked in ordered dataset", size=17.5)

# ======================================================
# PANEL H: BARS
# ======================================================
ax = box(485, 2059, 683, 2357)
ax.barh(np.arange(6) - 0.17, h_chm, height=0.34, color="#EF4044", lw=0)
ax.barh(np.arange(6) + 0.17, h_chexo, height=0.34, color="#BDBA00", lw=0)
ax.set_xlim(0, 15)
ax.set_ylim(5.48, -0.48)
ax.set_yticks(np.arange(6), labels=h_terms)
ax.set_xticks([0, 5, 10, 15])
ax.tick_params(axis="y", labelsize=20.8, width=2.4, length=9, pad=4)
ax.tick_params(axis="x", labelsize=18, width=2.4, length=9, pad=6)
ax.spines["top"].set_visible(False)
ax.spines["right"].set_visible(False)
ax.spines["left"].set_linewidth(2.2)
ax.spines["bottom"].set_linewidth(2.2)
put(584, 2430, r"-Log$_{10}$ ($\mathit{P}$-value)", size=20)
page.add_patch(Rectangle((362, 2012), 32, 21, color="#EF4044", lw=0))
page.add_patch(Rectangle((491, 2012), 33, 21, color="#BDBA00", lw=0))
put(412, 2021, "chM", size=20.5, ha="left")
put(542, 2021, "chExo/chM", size=20.5, ha="left")
side_bar(109, 2078, 2144)
side_bar(109, 2177, 2242)
side_bar(109, 2273, 2338)
put(75, 2113, "BP", size=29, rotation=90)
put(75, 2209, "MF", size=29, rotation=90)
put(75, 2305, "CC", size=29, rotation=90)

# ======================================================
# PANEL I: HEATMAP
# ======================================================
ax = box(881, 2173, 1640, 2306)
ax.pcolormesh(np.array([i_chm, i_chexo]), cmap=z_cmap, vmin=-1.43, vmax=1.39, edgecolors="#8E8E8E", linewidth=0.8)
ax.set_ylim(2, 0)
ax.axis("off")

ax = box(881, 2122, 1640, 2173)
for x_l, x_r, h, cl, cr in i_links:
    ax.plot([x_l, x_l, x_r, x_r], [cl, h, h, cr], color="#333333", lw=1.2)
ax.set_xlim(183, 1330)
ax.set_ylim(338, 185)
ax.axis("off")

col_w = (1640 - 881) / len(i_genes)
for k, gene in enumerate(i_genes):
    put(881 + col_w * (k + 0.5), 2318, gene, size=22, rotation=-90, va="top")
put(1688, 2243, "chM", size=26, rotation=-48)
put(1726, 2345, "chExo/chM", size=26, rotation=-48)

cax = box(841, 2177, 863, 2382)
cax.imshow(np.linspace(1.39, -1.43, 200)[:, None], aspect="auto", cmap=z_cmap, vmin=-1.43, vmax=1.39)
cax.axis("off")
put(821, 2207, "1", size=15, rotation=-90)
put(821, 2278, "0", size=15, rotation=-90)
put(821, 2352, "\u22121", size=15, rotation=-90)
put(800, 2282, "z-score", size=15.5, rotation=-90)

fig.savefig("out.png", dpi=100, facecolor="white")
